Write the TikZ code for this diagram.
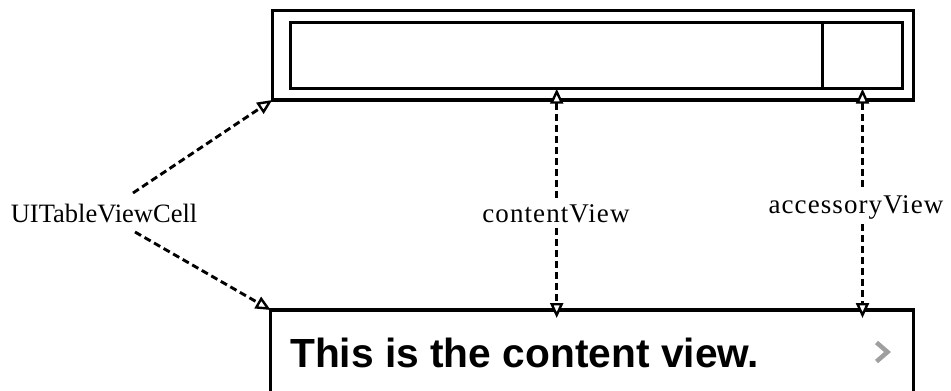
\documentclass[tikz,border=0pt]{standalone}
\usepackage{fontspec}
\setmainfont{Liberation Serif}
\newfontfamily\helvbold{Liberation Sans}
\usetikzlibrary{arrows.meta,fit}
\begin{document}
\begin{tikzpicture}[x=1pt,y=-1pt,
  boxline/.style={draw, line width=3.2pt, inner sep=0pt, outer sep=0pt},
  innerline/.style={draw, line width=2.8pt, inner sep=0pt, outer sep=0pt},
  dashline/.style={line width=2.9pt, dash pattern=on 7pt off 4pt},
  link/.style={dashline, -{Triangle[fill=white, length=15pt, width=13pt, line width=2.4pt]}},
  backlink/.style={dashline, {Triangle[fill=white, length=15pt, width=13pt, line width=2.4pt]}-},
  viewlabel/.style={font=\fontsize{27}{30}\selectfont\addfontfeature{LetterSpace=4}, inner sep=0pt, outer sep=5pt},
  celltag/.style={font=\fontsize{26.5}{30}\selectfont, inner sep=1pt}]
\useasboundingbox (0,0) rectangle (951,391);
% top: cell outline
\node[boxline, fit={(272.3,10.5) (913.3,100)}] (cell) {};
\node[innerline, fit={(290.7,22.7) (822.7,88.7)}] (content) {};
\node[innerline, fit={(822.7,22.7) (902.3,88.7)}] (accessory) {};
% bottom: rendered cell
\node[boxline, fit={(270.7,310) (913.3,410)}] (rendered) {};
\node[anchor=base west, inner sep=0pt, font=\helvbold\bfseries\fontsize{40.7}{44}\selectfont] (msg) at (290,367) {This is the content view.};
\draw[gray!75, line width=4.5pt] (876.5,342.5) -- (887.5,352) -- (876.5,361.5);
% UITableViewCell label and links
\node[celltag, anchor=base] (uitvc) at (104,222.5) {UITableViewCell};
\coordinate (u1) at (133,193);
\coordinate (u2) at (135,232);
\draw[link] (u1) -- (cell.south west);
\draw[link] (u2) -- (rendered.north west);
% contentView / accessoryView labels and links
\node[viewlabel, anchor=base] (cvlabel) at (556,222.7) {contentView};
\node[viewlabel, anchor=base] (avlabel) at (856,213) {accessoryView};
\draw[backlink] (content.south) -- (content.south |- cvlabel.north);
\draw[link, shorten >=-8pt] (content.south |- cvlabel.south) -- (content.south |- rendered.north);
\draw[backlink] (accessory.south) -- (accessory.south |- avlabel.north);
\draw[link, shorten >=-8pt] (accessory.south |- avlabel.south) -- (accessory.south |- rendered.north);
\end{tikzpicture}
\end{document}
